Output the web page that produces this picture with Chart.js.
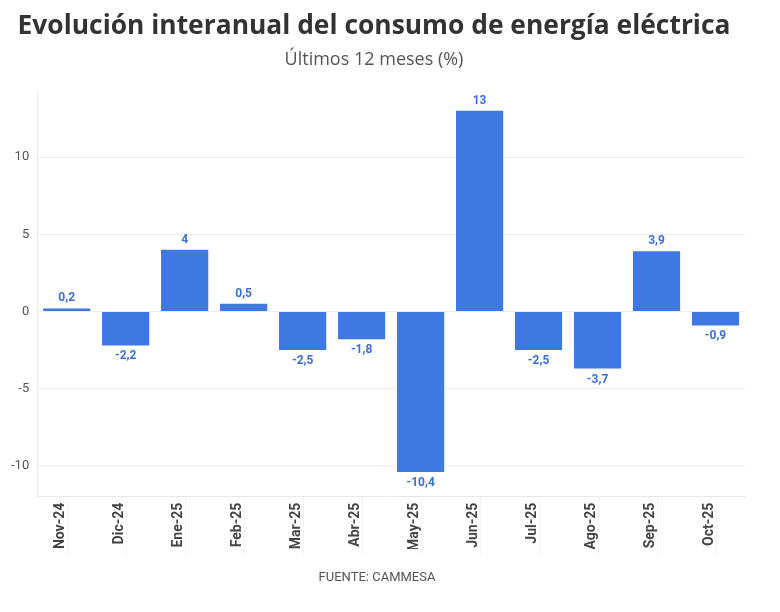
<!DOCTYPE html>
<html>
<head>
<meta charset="utf-8">
<script src="https://cdn.jsdelivr.net/npm/chart.js@4"></script>
<style>
  html, body { margin: 0; padding: 0; background: #fff; }
  #wrap { position: relative; width: 780px; height: 612px; }
</style>
</head>
<body>
<div id="wrap"><canvas id="chart" width="780" height="612"></canvas></div>
<script>
const months = ["Nov-24", "Dic-24", "Ene-25", "Feb-25", "Mar-25", "Abr-25", "May-25", "Jun-25", "Jul-25", "Ago-25", "Sep-25", "Oct-25"]
const variation = [0.2, -2.2, 4, 0.5, -2.5, -1.8, -10.4, 13, -2.5, -3.7, 3.9, -0.9]
const yTicks = [-10, -5, 0, 5, 10]

const fmt = v => String(v).replace(".", ",")

// value labels + faint tick lines under the axis + footer
const extras = {
  id: "extras",
  afterDatasetsDraw(chart) {
    const { ctx, chartArea } = chart
    const meta = chart.getDatasetMeta(0)
    ctx.save()
    ctx.font = "bold 12px Roboto"
    ctx.fillStyle = "#3a6fd8"
    ctx.textAlign = "center"
    ctx.textBaseline = "middle"
    meta.data.forEach((bar, i) => {
      const v = variation[i]
      const y = v >= 0 ? bar.y - 10 : bar.y + 11
      ctx.fillText(fmt(v), bar.x, y)
    })
    const xs = chart.scales.x
    ctx.strokeStyle = "#f3f3f3"
    ctx.lineWidth = 1
    xs.ticks.forEach((t, i) => {
      const x = Math.round(xs.getPixelForTick(i)) + 0.5
      ctx.beginPath()
      ctx.moveTo(x, chartArea.bottom)
      ctx.lineTo(x, chartArea.bottom + 58)
      ctx.stroke()
    })
    ctx.font = "13px Roboto"
    ctx.fillStyle = "#555"
    ctx.fillText("FUENTE: CAMMESA", 377, 578)
    ctx.restore()
  }
}

new Chart(document.getElementById("chart"), {
  type: "bar",
  data: {
    labels: months,
    datasets: [{
      data: variation,
      backgroundColor: "#3f78e0",
      barPercentage: 0.8,
      categoryPercentage: 1
    }]
  },
  options: {
    responsive: false,
    animation: false,
    layout: { padding: { left: 3, right: 35, top: 0, bottom: 63 } },
    plugins: {
      legend: { display: false },
      tooltip: { enabled: false },
      title: {
        display: true,
        text: "Evolución interanual del consumo de energía eléctrica",
        color: "#333",
        font: { family: "'Open Sans'", size: 26.4, weight: "bold" },
        padding: { top: 11, bottom: 6 }
      },
      subtitle: {
        display: true,
        text: "Últimos 12 meses (%)",
        color: "#555",
        font: { family: "'Open Sans'", size: 18 },
        padding: { bottom: 22 }
      }
    },
    scales: {
      x: {
        grid: { display: false },
        border: { color: "#e8e8e8" },
        ticks: {
          color: "#444",
          font: { family: "Roboto", size: 14, weight: "bold" },
          maxRotation: 90,
          minRotation: 90,
          labelOffset: -6,
          padding: -2
        }
      },
      y: {
        min: -12,
        max: 14.2,
        afterBuildTicks: axis => { axis.ticks = yTicks.map(v => ({ value: v })) },
        grid: { color: "#ececec", drawTicks: false },
        border: { color: "#ececec" },
        ticks: {
          color: "#555",
          font: { family: "Roboto", size: 13 },
          padding: 8
        }
      }
    }
  },
  plugins: [extras]
})
</script>
</body>
</html>
